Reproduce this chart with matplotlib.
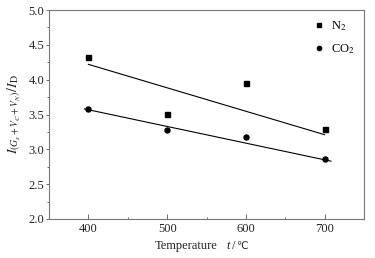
import matplotlib
matplotlib.use("Agg")
import matplotlib.pyplot as plt
from matplotlib.ticker import MultipleLocator, FormatStrFormatter

plt.rcParams['font.family'] = ['Liberation Serif', 'DejaVu Serif', 'DejaVu Sans']
plt.rcParams['mathtext.fontset'] = 'stix'

temps = [400, 500, 600, 700]
n2_vals = [4.32, 3.51, 3.95, 3.29]
co2_vals = [3.58, 3.28, 3.17, 2.86]

n2_fit_x = [400, 700]
n2_fit_y = [4.22, 3.21]
co2_fit_x = [395, 708]
co2_fit_y = [3.58, 2.83]

W, H = 375, 258
fig = plt.figure(figsize=(W / 100, H / 100), dpi=100)
ax = fig.add_axes([0.1307, 0.1512, 0.84, 0.81])

ax.plot(temps, n2_vals, 's', color='black', markersize=3.6, linestyle='none', label='N$_2$')
ax.plot(temps, co2_vals, 'o', color='black', markersize=3.6, linestyle='none', label='CO$_2$')
ax.plot(n2_fit_x, n2_fit_y, color='black', lw=0.8)
ax.plot(co2_fit_x, co2_fit_y, color='black', lw=0.8)

ax.set_xlim(350, 750)
ax.set_ylim(2.0, 5.0)
ax.xaxis.set_major_locator(MultipleLocator(100))
ax.xaxis.set_minor_locator(MultipleLocator(50))
ax.yaxis.set_major_locator(MultipleLocator(0.5))
ax.yaxis.set_minor_locator(MultipleLocator(0.25))
ax.set_xticks([400, 500, 600, 700])
ax.yaxis.set_major_formatter(FormatStrFormatter('%.1f'))

for s in ax.spines.values():
    s.set_color('#777777')
    s.set_linewidth(0.8)

ax.tick_params(axis='x', which='major', direction='in', length=3.5, width=0.6, colors='#555555', labelcolor='#222222', labelsize=9, pad=3)
ax.tick_params(axis='x', which='minor', direction='in', length=1.8, width=0.6, colors='#555555')
ax.tick_params(axis='y', which='major', direction='out', length=2.5, width=0.6, colors='#555555', labelcolor='#222222', labelsize=9, pad=1)
ax.tick_params(axis='y', which='minor', direction='out', length=1.2, width=0.6, colors='#555555')
ax.tick_params(top=False, right=False)

# x label in pieces (italic t, degree-Celsius sign)
ylab = 1 - 246 / H
fig.text(155 / W, ylab, 'Temperature', fontsize=9, color='#222222', va='center', ha='left')
fig.text(226 / W, ylab, 't', fontsize=9, color='#222222', va='center', ha='left', style='italic')
fig.text(232 / W, ylab, '/', fontsize=9, color='#222222', va='center', ha='left')
fig.text(236 / W, ylab, '\u2103', fontsize=7.5, color='#222222', va='center', ha='left',
         family=['DejaVu Sans'])

ax.set_ylabel('$I_{(G_s+V_C+V_N)}/I_\\mathrm{D}$', fontsize=10, color='#222222', labelpad=4)

leg = ax.legend(loc='upper right', bbox_to_anchor=(1.005, 1.01), frameon=False, fontsize=9,
                handlelength=0.8, handletextpad=0.5, labelspacing=0.75, markerscale=0.85)

fig.savefig('out.png', dpi=100)
